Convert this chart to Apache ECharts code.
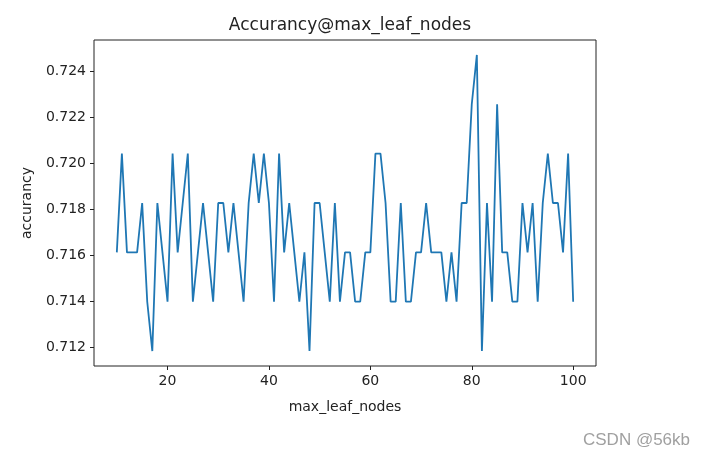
<!DOCTYPE html>
<html>
<head>
<meta charset="utf-8">
<script src="https://cdn.jsdelivr.net/npm/echarts@6/dist/echarts.min.js"></script>
<style>html,body{margin:0;padding:0;background:#fff}#c{width:706px;height:462px}</style>
</head>
<body>
<div id="c"></div>
<script>
const maxLeafNodes = [];
for (let n = 10; n <= 100; n++) maxLeafNodes.push(n);
const accuracy = [
  0.71613, 0.72043, 0.71613, 0.71613, 0.71613, 0.71828, 0.71398, 0.71183, 0.71828, 0.71613,
  0.71398, 0.72043, 0.71613, 0.71828, 0.72043, 0.71398, 0.71613, 0.71828, 0.71613, 0.71398,
  0.71828, 0.71828, 0.71613, 0.71828, 0.71613, 0.71398, 0.71828, 0.72043, 0.71828, 0.72043,
  0.71828, 0.71398, 0.72043, 0.71613, 0.71828, 0.71613, 0.71398, 0.71613, 0.71183, 0.71828,
  0.71828, 0.71613, 0.71398, 0.71828, 0.71398, 0.71613, 0.71613, 0.71398, 0.71398, 0.71613,
  0.71613, 0.72043, 0.72043, 0.71828, 0.71398, 0.71398, 0.71828, 0.71398, 0.71398, 0.71613,
  0.71613, 0.71828, 0.71613, 0.71613, 0.71613, 0.71398, 0.71613, 0.71398, 0.71828, 0.71828,
  0.72258, 0.72473, 0.71183, 0.71828, 0.71398, 0.72258, 0.71613, 0.71613, 0.71398, 0.71398,
  0.71828, 0.71613, 0.71828, 0.71398, 0.71828, 0.72043, 0.71828, 0.71828, 0.71613, 0.72043,
  0.71398
];
const xTicks = [20, 40, 60, 80, 100];
const yTicks = [0.712, 0.714, 0.716, 0.718, 0.720, 0.722, 0.724];
const titleText = 'Accurancy@max_leaf_nodes';
const xName = 'max_leaf_nodes';
const yName = 'accurancy';
const watermark = 'CSDN @56kb';

const FONT = 'DejaVu Sans';
const TXT = '#222';
const chart = echarts.init(document.getElementById('c'), null, {renderer: 'canvas'});
chart.setOption({
  backgroundColor: '#fff',
  animation: false,
  title: {
    text: titleText, left: 345, top: 12, textAlign: 'center',
    textStyle: {fontFamily: FONT, fontSize: 17, fontWeight: 'normal', color: TXT}
  },
  grid: {left: 94, right: 110, top: 40, bottom: 96, show: true, borderColor: '#222', borderWidth: 1, backgroundColor: 'transparent'},
  xAxis: {
    type: 'value', min: 5.5, max: 104.5,
    name: xName, nameLocation: 'middle', nameGap: 34,
    nameTextStyle: {fontFamily: FONT, fontSize: 14, color: TXT},
    axisLine: {show: false},
    axisTick: {show: true, length: 4, customValues: xTicks, lineStyle: {color: '#222'}},
    axisLabel: {customValues: xTicks, fontFamily: FONT, fontSize: 14, color: TXT, margin: 8, formatter: v => String(v)},
    splitLine: {show: false}
  },
  yAxis: {
    type: 'value', min: 0.71118, max: 0.72538,
    name: yName, nameLocation: 'middle', nameGap: 60, nameRotate: 90,
    nameTextStyle: {fontFamily: FONT, fontSize: 14, color: TXT},
    axisLine: {show: false},
    axisTick: {show: true, length: 4, customValues: yTicks, lineStyle: {color: '#222'}},
    axisLabel: {customValues: yTicks, fontFamily: FONT, fontSize: 14, color: TXT, margin: 8, formatter: v => v.toFixed(3)},
    splitLine: {show: false}
  },
  series: [{
    type: 'line',
    data: maxLeafNodes.map((x, i) => [x, accuracy[i]]),
    showSymbol: false, symbol: 'none',
    lineStyle: {color: '#1f77b4', width: 1.8},
    z: 3
  }],
  graphic: [{
    type: 'text', right: 16, top: 432,
    style: {text: watermark, font: '17px "Liberation Sans", Arial, sans-serif', fill: '#a0a0a0'}
  }]
});
</script>
</body>
</html>
